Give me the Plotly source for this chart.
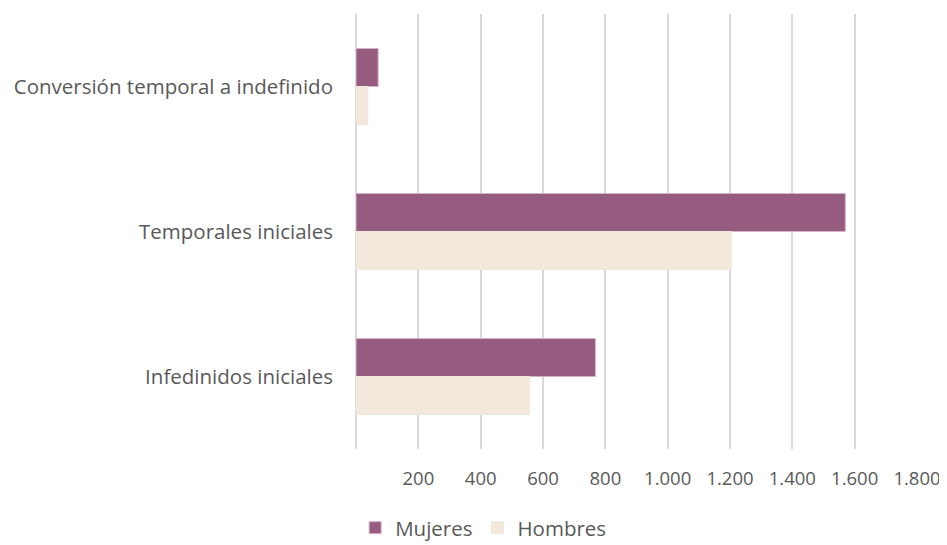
import plotly.graph_objects as go

# categorias (de arriba a abajo)
categorias = ["Conversión temporal a indefinido", "Temporales iniciales", "Infedinidos iniciales"]
mujeres = [71, 1570, 768]
hombres = [38, 1204, 557]

tick_vals = [200, 400, 600, 800, 1000, 1200, 1400, 1600, 1800]
tick_text = ["200", "400", "600", "800", "1.000", "1.200", "1.400", "1.600", "1.800"]

fuente = "Open Sans"
gris = "#595959"

fig = go.Figure()
fig.add_trace(go.Bar(name="Mujeres", y=categorias, x=mujeres, orientation="h",
                     marker=dict(color="#965C80", line=dict(color="#D6B3C8", width=1))))
fig.add_trace(go.Bar(name="Hombres", y=categorias, x=hombres, orientation="h",
                     marker=dict(color="#F2E9DC", line=dict(color="#F2E9DC", width=1))))

# la pagina tiene 8px de margen en el body
fig.update_layout(
    width=939, height=537,
    margin=dict(l=348, r=30, t=6, b=96),
    barmode="group", bargap=0.476, bargroupgap=0,
    plot_bgcolor="white", paper_bgcolor="white",
    font=dict(family=fuente, size=20.5, color=gris),
    legend=dict(orientation="h", xref="container", x=0.506, xanchor="center",
                yref="container", y=0.032, yanchor="middle",
                font=dict(size=20.5, color=gris), itemwidth=30),
)
fig.update_xaxes(range=[0, 1800], tickvals=tick_vals, ticktext=tick_text,
                 tickfont=dict(size=18.5),
                 showgrid=True, gridcolor="#D9D9D9", gridwidth=2,
                 zeroline=True, zerolinecolor="#D9D9D9", zerolinewidth=2,
                 showline=False, ticklabelstandoff=16, automargin=False,
                 fixedrange=True)
fig.update_yaxes(autorange="reversed", showgrid=False, showline=False,
                 ticklabelstandoff=22, automargin=False, fixedrange=True)

fig.write_html("out.html")
